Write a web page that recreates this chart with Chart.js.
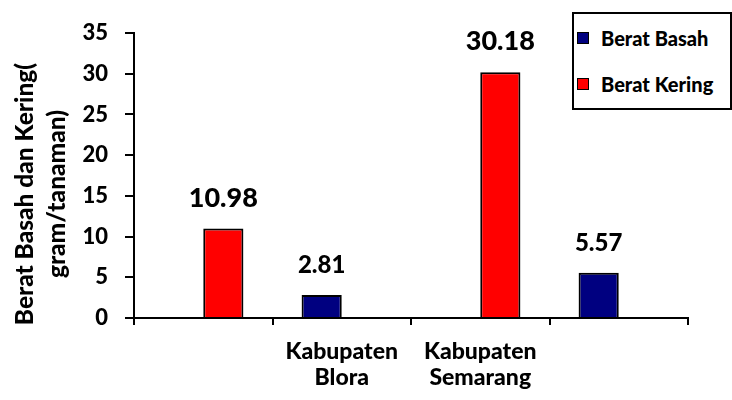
<!DOCTYPE html>
<html>
<head>
<meta charset="utf-8">
<script src="https://cdn.jsdelivr.net/npm/chart.js@4/dist/chart.umd.min.js"></script>
<style>
    body { margin: 0; background: #fff; }
    #wrap { position: relative; width: 732px; height: 400px; }
    #legend {
        position: absolute; left: 572px; top: 12px; width: 156px; height: 94px;
        border: 2px solid #000; background: #fff;
        font-family: Lato, sans-serif; font-weight: 900; font-size: 20px; color: #000;
    }
    #legend .item { position: absolute; left: 3px; display: flex; align-items: center; white-space: nowrap; }
    #legend .box { width: 10px; height: 10px; border: 1.5px solid #000; margin-right: 12px; }
</style>
</head>
<body>
<div id="wrap">
    <canvas id="beratChart" width="732" height="400"></canvas>
    <div id="legend"></div>
</div>
<script>
// data
const categories = ['', ['Kabupaten', 'Blora'], ['Kabupaten', 'Semarang'], ''];
const beratBasah = [null, 2.81, null, 5.57];
const beratKering = [10.98, null, 30.18, null];
const yTicks = [0, 5, 10, 15, 20, 25, 30, 35];
const yTitle = ['Berat Basah dan Kering(', 'gram/tanaman)'];

document.addEventListener('DOMContentLoaded', () => {
    Chart.defaults.font.family = 'Lato, sans-serif';
    Chart.defaults.font.weight = '900';
    Chart.defaults.color = '#000';

    // etiquetas encima de cada barra
    const valueLabels = {
        id: 'valueLabels',
        afterDatasetsDraw(chart) {
            const ctx = chart.ctx;
            ctx.save();
            ctx.fillStyle = '#000';
            ctx.textAlign = 'center';
            ctx.textBaseline = 'alphabetic';
            chart.data.datasets.forEach((ds, i) => {
                const size = i === 1 ? 27 : 24;
                ctx.font = '900 ' + size + 'px Lato, sans-serif';
                chart.getDatasetMeta(i).data.forEach((bar, j) => {
                    const v = ds.data[j];
                    if (v === null) return;
                    ctx.fillText(v.toFixed(2), bar.x, bar.y - 22);
                });
            });
            ctx.restore();
        }
    };

    // titulo del eje Y en dos lineas
    const yAxisTitle = {
        id: 'yAxisTitle',
        afterDraw(chart) {
            const ctx = chart.ctx;
            ctx.save();
            ctx.translate(0, 194);
            ctx.rotate(-Math.PI / 2);
            ctx.font = '900 24.5px Lato, sans-serif';
            ctx.fillStyle = '#000';
            ctx.textAlign = 'center';
            ctx.textBaseline = 'alphabetic';
            ctx.fillText(yTitle[0], 0, 33);
            ctx.fillText(yTitle[1], 0, 65);
            ctx.restore();
        }
    };

    const chart = new Chart(document.getElementById('beratChart'), {
        type: 'bar',
        data: {
            labels: categories,
            datasets: [{
                label: 'Berat Basah',
                data: beratBasah,
                backgroundColor: '#000080',
                borderColor: '#000',
                borderWidth: 2
            }, {
                label: 'Berat Kering',
                data: beratKering,
                backgroundColor: '#ff0000',
                borderColor: '#000',
                borderWidth: 2
            }]
        },
        options: {
            responsive: false,
            animation: false,
            categoryPercentage: 0.58,
            barPercentage: 1,
            layout: { padding: { top: 33, right: 44, left: 0, bottom: 0 } },
            scales: {
                x: {
                    grid: { drawOnChartArea: false, drawTicks: true, tickLength: 7, color: '#000', lineWidth: 2, offset: true },
                    border: { display: true, color: '#000', width: 2 },
                    ticks: { autoSkip: false, maxRotation: 0, padding: 13, font: { size: 23, weight: '900', lineHeight: 1.15 } },
                    afterFit(scale) { scale.height = 82; }
                },
                y: {
                    min: 0,
                    max: 35,
                    afterBuildTicks(scale) { scale.ticks = yTicks.map(v => ({ value: v })); },
                    grid: { drawOnChartArea: false, drawTicks: true, tickLength: 9, color: '#000', lineWidth: 2 },
                    border: { display: true, color: '#000', width: 2 },
                    ticks: { padding: 17, font: { size: 22, weight: '900' } },
                    afterFit(scale) { scale.width = 134; }
                }
            },
            plugins: {
                legend: { display: false },
                tooltip: { enabled: false }
            }
        },
        plugins: [valueLabels, yAxisTitle]
    });

    // leyenda HTML a partir de los datasets
    const legend = document.getElementById('legend');
    chart.data.datasets.forEach((ds, i) => {
        const item = document.createElement('div');
        item.className = 'item';
        item.style.top = (i === 0 ? 12 : 58) + 'px';
        item.innerHTML = '<span class="box" style="background:' + ds.backgroundColor + '"></span>' + ds.label;
        legend.appendChild(item);
    });
});
</script>
</body>
</html>
